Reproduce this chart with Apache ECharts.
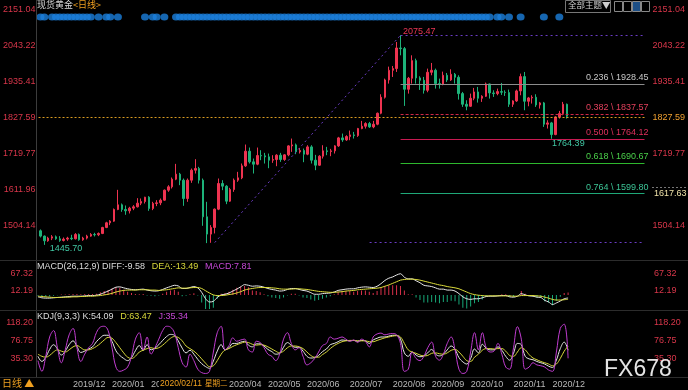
<!DOCTYPE html>
<html>
<head>
<meta charset="utf-8">
<title>现货黄金 日线</title>
<script src="https://cdn.jsdelivr.net/npm/echarts@6/dist/echarts.min.js"></script>
<style>
html,body{margin:0;padding:0;background:#000;overflow:hidden;}
#chart{width:688px;height:390px;}
</style>
</head>
<body>
<div id="chart"></div>
<script>
// ---------------- data (2 trading days per slot) ----------------
const opens = [1488,1472,1458,1466,1470,1464,1459,1463,1466,1464,
1477,1461,1466,1472,1477,1476,1480,1498,1512,1517,
1552,1566,1552,1548,1556,1560,1571,1576,1589,1555,
1570,1572,1580,1610,1620,1643,1658,1640,1585,1640,
1670,1675,1640,1530,1478,1498,1553,1630,1622,1577,
1612,1640,1647,1683,1727,1695,1688,1714,1713,1710,
1700,1702,1715,1702,1716,1743,1746,1725,1729,1718,
1740,1700,1685,1712,1728,1726,1728,1743,1767,1761,
1771,1776,1774,1795,1802,1810,1800,1808,1841,1889,
1941,1970,1975,2037,2035,1913,1946,1999,1947,1940,
1910,1964,1970,1930,1928,1955,1941,1958,1949,1900,
1868,1862,1886,1905,1886,1892,1929,1902,1900,1906,
1904,1903,1868,1878,1908,1951,1877,1887,1889,1866,
1872,1808,1812,1777,1830,1840,1868];
const highs = [1492,1474,1470,1475,1474,1472,1468,1470,1476,1481,
1480,1470,1476,1481,1482,1483,1500,1515,1520,1555,
1611,1570,1564,1560,1565,1586,1585,1590,1592,1575,
1580,1585,1612,1625,1648,1689,1662,1645,1645,1675,
1703,1680,1645,1575,1505,1555,1645,1640,1625,1617,
1645,1665,1690,1747,1738,1705,1738,1730,1722,1720,
1715,1718,1722,1718,1745,1765,1750,1737,1735,1745,
1745,1716,1715,1745,1740,1734,1745,1770,1780,1775,
1789,1785,1797,1818,1814,1815,1818,1843,1898,1945,
1981,1983,2055,2075.47,2040,1950,2015,2005,1952,1950,
1975,1992,1975,1945,1966,1962,1973,1962,1955,1905,
1880,1900,1917,1920,1895,1933,1930,1910,1915,1932,
1910,1912,1880,1912,1960,1965,1890,1895,1898,1875,
1875,1820,1815,1832,1848,1875,1870];
const lows = [1468,1445.7,1455,1460,1461,1455,1456,1458,1460,1462,
1458,1458,1462,1470,1471,1472,1478,1496,1505,1515,
1550,1545,1536,1540,1550,1558,1565,1570,1548,1550,
1562,1565,1578,1605,1615,1640,1625,1563,1575,1632,
1660,1630,1503,1451,1452,1480,1550,1610,1568,1575,
1605,1635,1643,1680,1690,1660,1685,1700,1690,1676,
1692,1682,1695,1698,1712,1725,1718,1720,1694,1715,
1690,1670,1683,1705,1715,1712,1720,1740,1755,1758,
1760,1765,1770,1793,1795,1797,1796,1805,1838,1885,
1930,1950,1965,2015,1863,1900,1930,1930,1911,1900,
1904,1955,1915,1915,1925,1935,1938,1930,1882,1860,
1850,1860,1880,1873,1875,1890,1885,1890,1895,1896,
1893,1860,1860,1875,1895,1850,1862,1870,1860,1855,
1800,1795,1764.39,1775,1825,1835,1825];
const closes = [1472,1458,1466,1470,1464,1459,1463,1466,1464,1477,
1461,1466,1472,1477,1476,1480,1498,1512,1517,1552,
1566,1552,1548,1556,1560,1571,1576,1589,1555,1570,
1572,1580,1610,1620,1643,1658,1640,1585,1640,1670,
1675,1640,1530,1478,1498,1553,1630,1622,1577,1612,
1640,1647,1683,1727,1695,1688,1714,1713,1710,1700,
1702,1715,1702,1716,1743,1746,1725,1729,1718,1740,
1700,1685,1712,1728,1726,1728,1743,1767,1761,1771,
1776,1774,1795,1802,1810,1800,1808,1841,1889,1941,
1970,1975,2037,2035,1913,1946,1999,1947,1940,1910,
1964,1970,1930,1928,1955,1941,1958,1949,1900,1868,
1862,1886,1905,1886,1892,1929,1902,1900,1906,1904,
1903,1868,1878,1908,1951,1877,1887,1889,1866,1872,
1808,1812,1777,1830,1840,1868,1832];

const macdDiff = [-6,-9,-10,-10,-9,-8,-7,-6,-5,-4,-4,
-4,-3,-2,-2,-1,2,7,
12,18,24,25,
22,19,17,16,17,18,15,13,12,
13,17,22,26,30,28,
20,20,23,26,22,
8,-12,-22,-20,
-8,0,2,6,12,
18,25,32,30,27,
28,27,24,20,17,15,12,
13,17,20,20,17,
14,12,7,2,2,
4,5,6,9,14,16,18,
19,19,22,24,25,24,23,
27,35,45,52,56,62,66,
55,50,50,44,38,30,28,
26,22,18,18,15,15,12,
4,-6,-12,-14,
-12,-12,-9,-5,-4,-4,-3,-2,-2,-6,
-7,-4,4,0,
-3,-4,-7,-8,-17,-22,-30,
-25,-19,-12,-9.58];
const macdDea = [-4,-5,-6,-7,-8,-8,-8,-7,-7,-6,-6,
-5,-5,-4,-4,-3,-2,0,
2,5,9,12,
14,15,15,15,16,16,16,15,15,
14,15,16,18,20,22,
21,21,22,23,23,
20,13,6,0,
-2,-2,-1,1,3,
6,10,15,18,20,
22,23,23,23,22,21,19,
18,18,18,19,19,
18,17,15,13,11,
10,9,8,8,9,10,12,
13,14,16,17,18,19,20,
21,23,27,31,36,41,46,
48,49,49,48,46,43,40,
37,34,31,29,26,24,22,
19,14,9,4,
1,-1,-2,-3,-3,-3,-3,-3,-3,-3,
-4,-4,-2,-2,
-2,-2,-3,-4,-7,-10,-14,
-16,-16,-15,-13.49];
const macdHist = [-3,-5,-6,-5,-3,-1,1,1,2,3,3,
2,3,3,3,4,8,12,
15,20,24,22,
16,10,6,3,2,3,-2,-3,-4,
-2,4,10,14,16,10,
-4,-3,2,5,-2,
-24,-44,-44,-40,
-12,4,6,10,16,
22,26,28,24,14,
12,8,2,-4,-8,-10,-12,
-8,-2,4,4,-2,
-8,-10,-14,-18,-16,
-12,-8,-4,2,10,12,12,
12,10,12,14,14,10,6,
12,22,28,30,30,30,28,
14,2,2,-8,-16,-24,-24,
-22,-24,-26,-22,-22,-18,-20,
-30,-40,-42,-36,
-26,-22,-14,-4,-2,-2,0,2,2,-6,
-6,0,12,4,
-2,-4,-8,-8,-20,-24,-32,
-18,-6,6,7.81];

const kdjK = [40,28,38,56,67,57,43,52,67,76,
63,49,52,57,62,74,83,89,89,75,
53,42,35,30,37,53,65,54,67,55,
59,67,77,86,91,89,76,59,48,54,
45,33,23,16,12,29,52,67,55,60,
70,70,73,75,66,62,69,69,64,56,
51,45,47,61,72,66,61,61,52,40,
36,37,42,51,57,67,70,74,78,77,
76,77,75,77,76,70,78,82,85,85,
87,89,89,80,48,40,50,43,39,41,
48,56,45,41,45,55,64,56,37,27,
22,35,57,48,68,59,55,55,62,54,
40,31,47,70,67,40,34,32,28,25,
22,17,14,31,58,73,54.09];
const kdjD = [45,40,38,42,50,55,52,50,55,62,
65,60,55,55,58,63,70,78,84,82,
72,60,48,38,35,40,50,54,58,60,
58,60,66,74,82,86,84,76,64,58,
52,44,34,24,16,18,30,45,55,58,
63,67,70,73,72,68,66,67,66,62,
57,52,48,52,60,64,64,62,58,50,
42,38,38,44,50,58,65,70,74,76,
77,77,76,76,76,74,74,77,80,83,
85,87,88,85,70,55,50,47,43,41,
42,47,48,46,45,48,54,56,50,40,
30,28,38,45,54,58,58,57,58,58,
52,42,40,50,60,55,44,36,32,28,
25,22,18,22,35,52,63.47];
const kdjJ = [30,5,40,85,100,60,25,55,90,105,
60,28,45,60,70,95,108,110,100,60,
15,5,8,15,40,80,95,55,85,45,
60,80,100,110,108,95,60,25,15,45,
30,10,2,0,5,50,95,110,55,65,
83,75,78,80,55,50,75,72,60,45,
40,30,45,80,95,70,55,60,40,20,
25,35,50,65,70,85,80,82,85,80,
75,78,72,80,75,62,85,92,94,90,
92,93,90,70,5,10,50,35,30,40,
60,73,40,31,45,70,85,55,10,0,
5,50,95,55,95,60,50,52,70,45,
15,10,60,109,80,10,15,25,20,18,
15,8,5,50,105,115,35.34];

const eventSlots = [0,1,3,4,5,6,7,8,9,10,11,12,13,15,17,18,20,27,29,30,32,
35,36,37,38,39,40,41,42,43,44,45,46,47,48,49,50,51,52,53,54,55,56,57,58,59,
60,61,62,63,64,65,66,67,68,69,70,71,72,73,74,75,76,77,78,79,80,81,82,83,84,
85,86,87,88,89,90,91,92,93,94,95,96,97,98,99,100,101,102,103,104,105,106,107,
108,109,110,111,112,113,114,115,116,118,119,121,124,130,134];

const monthSlots = [9,19,29,49,59,69,80,91,101,111,122,132];
const monthNames = ['2019/12','2020/01','2020/02','2020/04','2020/05','2020/06','2020/07','2020/08','2020/09','2020/10','2020/11','2020/12'];
const priceTicks = [2151.04,2043.22,1935.41,1827.59,1719.77,1611.96,1504.14];
const priceTicksRight = [2151.04,2043.22,1935.41,1827.59,1719.77,1504.14];
const macdTicks = [67.32,12.19];
const kdjTicks = [118.20,76.75,35.30];
const fibRatios = ['0.236','0.382','0.500','0.618','0.764'];
const fibValues = [1928.45,1837.57,1764.12,1690.67,1599.80];
const swingHigh = 2075.47, swingHighSlot = 93;
const fibBase = 1452.6, fibBaseSlot = 45, fibBaseLineStartSlot = 85;
const recentLow = 1764.39, recentLowSlot = 132;
const periodLow = 1445.70, periodLowSlot = 1;
const lastPrice = 1830;
const highlightTick = 1827.59;
const crossValue = '1617.63';
const crossDate = '2020/02/11';
const crossWeekday = '星期二';
const totalSlots = 157;
const eventLevel = 2130;

// ---------------- chart ----------------
const FONT = "'Liberation Sans',sans-serif";
const CJK = "'Noto Sans CJK SC','Liberation Sans',sans-serif";
const FS = 9;
const AXIS_RED = '#d8364a';
const UP = '#ee3350', DOWN = '#1db37a';
const PURPLE = '#6a3cc4';
const cats = Array.from({length: totalSlots}, (_, i) => String(i));
const lastSlot = totalSlots - 1;
const fmt2 = v => Number(v).toFixed(2);

const chart = echarts.init(document.getElementById('chart'), null, {renderer: 'canvas'});

function xAx(g, showLabels) {
  return {
    type: 'category', gridIndex: g, data: cats, boundaryGap: true,
    axisLine: {show: false}, axisTick: {show: false}, splitLine: {show: false},
    axisPointer: {show: false},
    axisLabel: showLabels ? {
      show: true,
      interval: idx => monthSlots.indexOf(idx) >= 0,
      formatter: (v) => { const k = monthSlots.indexOf(Number(v)); return k >= 0 ? monthNames[k] : ''; },
      color: '#b8b8b8', fontSize: FS, fontFamily: FONT, align: 'left', margin: 3
    } : {show: false}
  };
}
function yAx(g, pos, min, max, ticks, margin, formatter, rich) {
  return {
    type: 'value', gridIndex: g, position: pos, min: min, max: max,
    axisLine: {show: false}, axisTick: {show: false}, splitLine: {show: false},
    axisLabel: {show: true, customValues: ticks, formatter: formatter || fmt2, rich: rich,
      color: AXIS_RED, fontSize: FS, fontFamily: FONT, margin: margin}
  };
}
const rightPriceFmt = v => Math.abs(v - highlightTick) < 0.001 ? '{o|' + fmt2(v) + '}' : fmt2(v);

const fibStyles = [
  {line: '#8c8c8c', text: '#c8c8c8', type: 'solid'},
  {line: '#d02848', text: '#e2405c', type: [3, 2]},
  {line: '#c81a52', text: '#e0305c', type: 'solid'},
  {line: '#2eb82e', text: '#4ad04a', type: 'solid'},
  {line: '#1fa878', text: '#3cc496', type: 'solid'}
];
const markLines = [
  {yAxis: lastPrice, lineStyle: {color: '#d89a20', type: [2, 2], width: 1}, label: {show: false}},
  [{coord: [swingHighSlot, swingHigh], lineStyle: {color: PURPLE, type: [2, 3], width: 1}, label: {show: false}}, {coord: [lastSlot, swingHigh]}],
  [{coord: [fibBaseSlot, fibBase], lineStyle: {color: PURPLE, type: [2, 3], width: 1}, label: {show: false}}, {coord: [swingHighSlot, swingHigh]}],
  [{coord: [fibBaseLineStartSlot, fibBase], lineStyle: {color: PURPLE, type: [2, 3], width: 1}, label: {show: false}}, {coord: [lastSlot, fibBase]}]
];
fibValues.forEach((v, i) => {
  const s = fibStyles[i];
  markLines.push([
    {coord: [swingHighSlot, v], lineStyle: {color: s.line, type: s.type, width: 1},
     label: {show: true, position: 'insideEndTop', formatter: fibRatios[i] + ' \\ ' + fmt2(v),
             color: s.text, fontSize: FS, fontFamily: FONT, distance: [-4, 2]}},
    {coord: [lastSlot, v]}
  ]);
});

const option = {
  backgroundColor: '#000',
  animation: false,
  grid: [
    {left: 36, right: 40, top: 2, height: 256},
    {left: 36, right: 40, top: 262, height: 48},
    {left: 36, right: 40, top: 312, height: 65}
  ],
  xAxis: [xAx(0, false), xAx(1, false), xAx(2, true)],
  yAxis: [
    yAx(0, 'left', 1406.3, 2175.06, priceTicks, 3),
    yAx(0, 'right', 1406.3, 2175.06, priceTicksRight, 6, rightPriceFmt, {o: {color: '#f0a030', fontSize: FS, fontFamily: FONT}}),
    yAx(1, 'left', -47, 102.5, macdTicks, 3),
    yAx(1, 'right', -47, 102.5, macdTicks, 6),
    yAx(2, 'left', -8.2, 143.2, kdjTicks, 3),
    yAx(2, 'right', -8.2, 143.2, kdjTicks, 6)
  ],
  series: [
    {
      name: 'K', type: 'candlestick', xAxisIndex: 0, yAxisIndex: 0,
      data: opens.map((o, i) => [o, closes[i], lows[i], highs[i]]),
      barWidth: 2,
      itemStyle: {color: UP, color0: DOWN, borderColor: UP, borderColor0: DOWN, borderWidth: 1},
      markLine: {symbol: ['none', 'none'], silent: true, animation: false, label: {show: false}, data: markLines},
      markPoint: {
        symbol: 'circle', symbolSize: 1, silent: true, animation: false,
        itemStyle: {color: 'rgba(0,0,0,0)'},
        data: [
          {coord: [swingHighSlot, swingHigh], label: {show: true, position: 'right', formatter: fmt2(swingHigh), color: '#ec3656', fontSize: FS, fontFamily: FONT, offset: [-3, -4]}},
          {coord: [recentLowSlot, recentLow], label: {show: true, position: 'right', formatter: fmt2(recentLow), color: '#40c8a4', fontSize: FS, fontFamily: FONT, offset: [-5, 5]}},
          {coord: [periodLowSlot, periodLow], label: {show: true, position: 'right', formatter: fmt2(periodLow), color: '#40c8a4', fontSize: FS, fontFamily: FONT, offset: [0, 4]}}
        ]
      }
    },
    {
      name: 'events', type: 'scatter', xAxisIndex: 0, yAxisIndex: 0,
      data: eventSlots.map(s => [s, eventLevel]),
      symbol: 'circle', symbolSize: [8, 7], itemStyle: {color: '#1c80dc'}, silent: true
    },
    {
      name: 'MACD', type: 'bar', xAxisIndex: 1, yAxisIndex: 2, data: macdHist, barWidth: 1,
      itemStyle: {color: p => p.value >= 0 ? '#d8304a' : '#18a878'}, silent: true
    },
    {name: 'DIFF', type: 'line', xAxisIndex: 1, yAxisIndex: 2, data: macdDiff, showSymbol: false, smooth: 0.3,
     lineStyle: {color: '#e8e8e8', width: 1}, silent: true},
    {name: 'DEA', type: 'line', xAxisIndex: 1, yAxisIndex: 2, data: macdDea, showSymbol: false, smooth: 0.3,
     lineStyle: {color: '#dede3c', width: 1}, silent: true},
    {name: 'Kline', type: 'line', xAxisIndex: 2, yAxisIndex: 4, data: kdjK, showSymbol: false, smooth: 0.4,
     lineStyle: {color: '#e8e8e8', width: 1}, silent: true},
    {name: 'Dline', type: 'line', xAxisIndex: 2, yAxisIndex: 4, data: kdjD, showSymbol: false, smooth: 0.4,
     lineStyle: {color: '#d8d83a', width: 1}, silent: true},
    {name: 'Jline', type: 'line', xAxisIndex: 2, yAxisIndex: 4, data: kdjJ, showSymbol: false, smooth: 0.4,
     lineStyle: {color: '#c03cd0', width: 1}, silent: true}
  ],
  graphic: [
    {type: 'line', silent: true, z: 50, shape: {x1: 36.5, y1: 0, x2: 36.5, y2: 377}, style: {stroke: '#3c3c3c', lineWidth: 1}},
    {type: 'line', silent: true, z: 50, shape: {x1: 0, y1: 260.5, x2: 688, y2: 260.5}, style: {stroke: '#2c2c2c', lineWidth: 1}},
    {type: 'line', silent: true, z: 50, shape: {x1: 0, y1: 310.5, x2: 688, y2: 310.5}, style: {stroke: '#2c2c2c', lineWidth: 1}},
    {type: 'line', silent: true, z: 50, shape: {x1: 0, y1: 377.5, x2: 688, y2: 377.5}, style: {stroke: '#2c2c2c', lineWidth: 1}},
    {type: 'text', silent: true, z: 60, left: 37, top: 0,
     style: {text: '{w|现货黄金}{o|<日线>}', rich: {w: {fill: '#d8d8d8', fontSize: 9, fontFamily: CJK}, o: {fill: '#f0a020', fontSize: 9, fontFamily: CJK}}}},
    {type: 'text', silent: true, z: 60, left: 37, top: 261,
     style: {text: '{w|MACD(26,12,9) DIFF:' + macdDiff[macdDiff.length - 1] + '}  {y|DEA:' + macdDea[macdDea.length - 1] + '}  {m|MACD:' + macdHist[macdHist.length - 1] + '}',
       rich: {w: {fill: '#dcdcdc', fontSize: FS, fontFamily: FONT}, y: {fill: '#d8d83a', fontSize: FS, fontFamily: FONT}, m: {fill: '#c648d6', fontSize: FS, fontFamily: FONT}}}},
    {type: 'text', silent: true, z: 60, left: 37, top: 311,
     style: {text: '{w|KDJ(9,3,3) K:' + kdjK[kdjK.length - 1] + '}  {y|D:' + kdjD[kdjD.length - 1] + '}  {m|J:' + kdjJ[kdjJ.length - 1] + '}',
       rich: {w: {fill: '#dcdcdc', fontSize: FS, fontFamily: FONT}, y: {fill: '#d8d83a', fontSize: FS, fontFamily: FONT}, m: {fill: '#c648d6', fontSize: FS, fontFamily: FONT}}}},
    {type: 'text', silent: true, z: 60, left: 2, top: 378, style: {text: '日线 ▲', fill: '#f0a020', fontSize: 10, fontFamily: CJK}},
    {type: 'rect', silent: true, z: 59, shape: {x: 159, y: 379, width: 70, height: 11}, style: {fill: '#000'}},
    {type: 'text', silent: true, z: 60, left: 160, top: 379,
     style: {text: '{d|' + crossDate + '}{w|' + crossWeekday + '}',
       rich: {d: {fill: '#f0a020', fontSize: 8.5, fontFamily: FONT, padding: [0, 3, 0, 0]}, w: {fill: '#f0a020', fontSize: 7.5, fontFamily: CJK}}}},
    {type: 'line', silent: true, z: 60, shape: {x1: 652, y1: 187.5, x2: 688, y2: 187.5}, style: {stroke: '#777', lineWidth: 1, lineDash: [2, 2]}},
    {type: 'text', silent: true, z: 60, left: 654, top: 189, style: {text: crossValue, fill: '#efe2a8', fontSize: FS, fontFamily: FONT}},
    {type: 'rect', silent: true, z: 60, shape: {x: 565.5, y: 0.5, width: 45, height: 12}, style: {fill: '#000', stroke: '#777', lineWidth: 1}},
    {type: 'text', silent: true, z: 61, left: 568, top: 1, style: {text: '全部主题▼', fill: '#cfcfcf', fontSize: 8.5, fontFamily: CJK}},
    {type: 'rect', silent: true, z: 60, shape: {x: 614.5, y: 1.5, width: 8, height: 10}, style: {fill: '#000', stroke: '#888', lineWidth: 1}},
    {type: 'rect', silent: true, z: 60, shape: {x: 623.5, y: 1.5, width: 8, height: 10}, style: {fill: '#000', stroke: '#888', lineWidth: 1}},
    {type: 'rect', silent: true, z: 60, shape: {x: 632.5, y: 1.5, width: 8, height: 10}, style: {fill: '#1d4f86', stroke: '#888', lineWidth: 1}},
    {type: 'rect', silent: true, z: 60, shape: {x: 641.5, y: 1.5, width: 8, height: 10}, style: {fill: '#000', stroke: '#888', lineWidth: 1}},
    {type: 'text', silent: true, z: 70, left: 604, top: 358, style: {text: 'FX678', fill: '#e4e4e4', fontSize: 23, fontFamily: "'Liberation Sans',sans-serif"}}
  ]
};
chart.setOption(option);
</script>
</body>
</html>
